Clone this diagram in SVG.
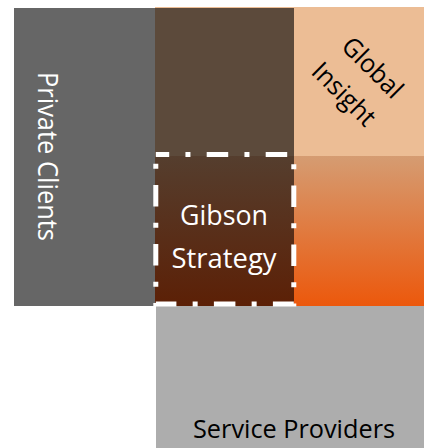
<svg xmlns="http://www.w3.org/2000/svg" width="424" height="448" viewBox="0 0 424 448">
  <defs>
    <linearGradient id="brownGrad" x1="0" y1="0" x2="0" y2="1">
      <stop offset="0" stop-color="#553E2E"/>
      <stop offset="1" stop-color="#5C2006"/>
    </linearGradient>
    <linearGradient id="orangeGrad" x1="0" y1="0" x2="0" y2="1">
      <stop offset="0" stop-color="#D59C72"/>
      <stop offset="1" stop-color="#EC580C"/>
    </linearGradient>
  </defs>
  <style>
    .lbl { font-family: "Open Sans", "Noto Sans", "DejaVu Sans", sans-serif; text-anchor: middle; }
    .white { fill: #FFFFFF; }
    .black { fill: #000000; }
    .dash { fill: none; stroke: #FFFFFF; stroke-width: 5; stroke-dasharray: 21.5 16.25 5 16.25; stroke-dashoffset: 8.1; }
  </style>
  <rect width="424" height="448" fill="#FFFFFF"/>

  <g id="private-clients">
    <rect x="14" y="8" width="141" height="298" fill="#666666"/>
    <text class="lbl white" font-size="28" textLength="169" lengthAdjust="spacingAndGlyphs" transform="translate(37.5,156.5) rotate(90)" x="0" y="0">Private Clients</text>
  </g>

  <g id="global-insight">
    <rect x="155" y="7" width="269" height="149" fill="#ECBD95"/>
    <rect x="294" y="156" width="130" height="150" fill="url(#orangeGrad)"/>
    <g transform="translate(358.5,81.75) rotate(45)">
      <text class="lbl black" font-size="26" x="0" y="-11" textLength="74" lengthAdjust="spacingAndGlyphs">Global</text>
      <text class="lbl black" font-size="26" x="-1.5" y="28" textLength="78" lengthAdjust="spacingAndGlyphs">Insight</text>
    </g>
  </g>

  <g id="top-block">
    <rect x="155" y="8" width="139" height="148" fill="#5C4A3B"/>
  </g>

  <g id="gibson-strategy">
    <rect x="155" y="156" width="139" height="150" fill="url(#brownGrad)"/>
    <text class="lbl white" font-size="28" x="224" y="224.5" textLength="88" lengthAdjust="spacingAndGlyphs">Gibson</text>
    <text class="lbl white" font-size="28" x="224" y="267.5" textLength="105" lengthAdjust="spacingAndGlyphs">Strategy</text>
  </g>

  <g id="service-providers">
    <rect x="156" y="306" width="268" height="142" fill="#ADADAD"/>
    <text class="lbl black" font-size="25.5" x="294" y="438" textLength="202" lengthAdjust="spacingAndGlyphs">Service Providers</text>
  </g>

  <g id="gibson-border">
    <rect class="dash" x="155.8" y="154.5" width="138" height="149.5"/>
  </g>

  <g id="connectors"/>
</svg>
